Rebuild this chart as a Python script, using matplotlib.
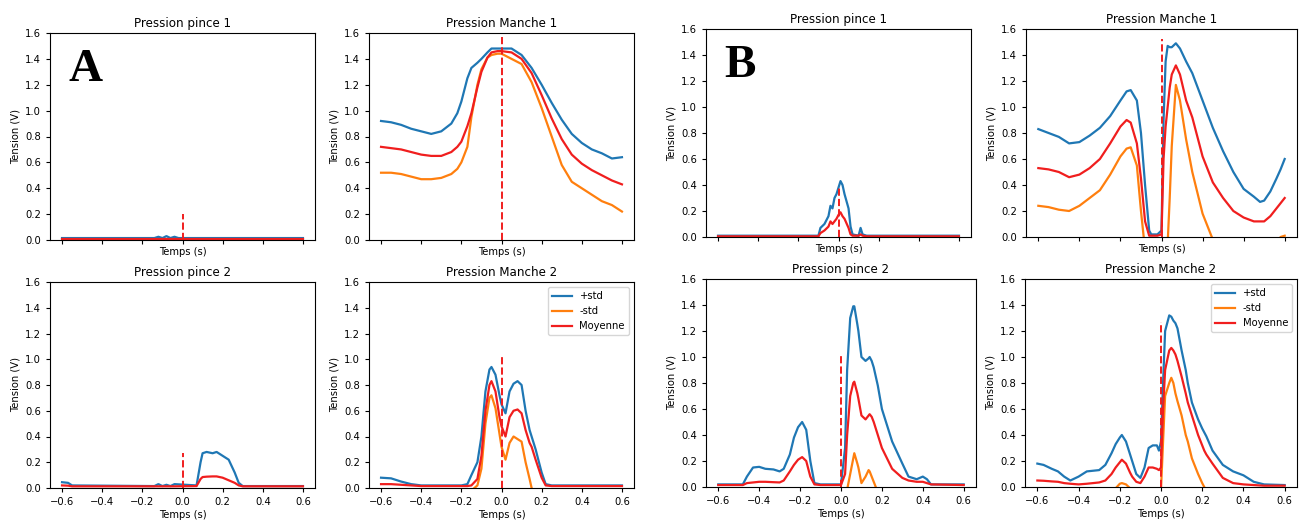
import numpy as np
import matplotlib.pyplot as plt

# ---- data ----
# A: Pression pince 1
a1_t = [-0.6, -0.14, -0.12, -0.1, -0.08, -0.06, -0.04, -0.02, 0.0, 0.6]
a1_plus = [0.015, 0.015, 0.025, 0.015, 0.03, 0.015, 0.025, 0.015, 0.015, 0.015]
a1_minus = [-0.02, -0.02, -0.02, -0.02, -0.02, -0.02, -0.02, -0.02, -0.02, -0.02]
a1_mean = [0.008, 0.008, 0.008, 0.008, 0.008, 0.008, 0.008, 0.008, 0.008, 0.008]
a1_vline = 0.2

# A: Pression Manche 1
a2_t = [-0.6, -0.55, -0.5, -0.45, -0.4, -0.35, -0.3, -0.25, -0.22, -0.2, -0.17, -0.15, -0.12,
        -0.1, -0.07, -0.05, -0.02, 0.0, 0.05, 0.1, 0.15, 0.2, 0.25, 0.3, 0.35, 0.4, 0.45,
        0.5, 0.55, 0.6]
a2_plus = [0.92, 0.91, 0.89, 0.86, 0.84, 0.82, 0.84, 0.90, 0.98, 1.07, 1.25, 1.33, 1.37,
           1.40, 1.45, 1.48, 1.48, 1.48, 1.48, 1.43, 1.33, 1.20, 1.06, 0.93, 0.82, 0.75, 0.70,
           0.67, 0.63, 0.64]
a2_minus = [0.52, 0.52, 0.51, 0.49, 0.47, 0.47, 0.48, 0.51, 0.55, 0.60, 0.72, 0.95, 1.20,
            1.32, 1.41, 1.43, 1.44, 1.44, 1.40, 1.36, 1.22, 1.02, 0.80, 0.58, 0.45, 0.40, 0.35,
            0.30, 0.27, 0.22]
a2_mean = [0.72, 0.71, 0.70, 0.68, 0.66, 0.65, 0.65, 0.68, 0.72, 0.76, 0.88, 0.98, 1.18,
           1.30, 1.41, 1.45, 1.46, 1.46, 1.45, 1.40, 1.29, 1.12, 0.94, 0.78, 0.66, 0.59, 0.54,
           0.50, 0.46, 0.43]
a2_vline = 1.6

# A: Pression pince 2
a3_t = [-0.6, -0.57, -0.55, -0.14, -0.12, -0.1, -0.08, -0.06, -0.04, 0.07, 0.09, 0.1, 0.12,
        0.15, 0.17, 0.2, 0.23, 0.26, 0.28, 0.3, 0.6]
a3_plus = [0.045, 0.04, 0.02, 0.015, 0.03, 0.015, 0.025, 0.015, 0.03, 0.02, 0.2, 0.27, 0.28,
           0.27, 0.28, 0.25, 0.22, 0.12, 0.04, 0.015, 0.015]
a3_minus = [-0.02, -0.02, -0.02, -0.02, -0.02, -0.02, -0.02, -0.02, -0.02, -0.02, -0.02, -0.02,
            -0.02, -0.02, -0.02, -0.02, -0.02, -0.02, -0.02, -0.02, -0.02]
a3_mean = [0.02, 0.018, 0.013, 0.013, 0.013, 0.013, 0.013, 0.013, 0.013, 0.015, 0.07, 0.085,
           0.088, 0.09, 0.09, 0.08, 0.06, 0.04, 0.02, 0.013, 0.013]
a3_vline = 0.27

# A: Pression Manche 2
a4_t = [-0.6, -0.55, -0.5, -0.45, -0.4, -0.2, -0.17, -0.15, -0.12, -0.1, -0.08, -0.06, -0.05,
        -0.03, -0.01, 0.0, 0.02, 0.04, 0.06, 0.08, 0.1, 0.12, 0.14, 0.15, 0.17, 0.2, 0.22,
        0.25, 0.6]
a4_plus = [0.08, 0.075, 0.05, 0.03, 0.02, 0.02, 0.03, 0.1, 0.2, 0.4, 0.75, 0.92, 0.94,
           0.88, 0.72, 0.65, 0.58, 0.75, 0.81, 0.83, 0.80, 0.60, 0.45, 0.40, 0.30, 0.12, 0.03,
           0.02, 0.02]
a4_minus = [-0.02, -0.02, -0.02, -0.02, -0.02, -0.02, -0.02, -0.02, 0.02, 0.15, 0.50, 0.70, 0.72,
            0.62, 0.42, 0.32, 0.22, 0.35, 0.40, 0.38, 0.36, 0.20, 0.07, 0.0, -0.05, -0.05, -0.05,
            -0.05, -0.05]
a4_mean = [0.03, 0.03, 0.025, 0.02, 0.015, 0.015, 0.015, 0.02, 0.07, 0.25, 0.60, 0.80, 0.83,
           0.75, 0.55, 0.48, 0.40, 0.55, 0.60, 0.61, 0.58, 0.45, 0.35, 0.32, 0.22, 0.08, 0.02,
           0.015, 0.015]
a4_vline = 1.03

# B: Pression pince 1
b1_t = [-0.6, -0.1, -0.09, -0.07, -0.05, -0.04, -0.03, -0.02, -0.01, 0.0, 0.01, 0.02, 0.03,
        0.05, 0.06, 0.07, 0.1, 0.11, 0.12, 0.14, 0.6]
b1_plus = [0.01, 0.01, 0.07, 0.10, 0.16, 0.24, 0.22, 0.30, 0.33, 0.38, 0.43, 0.40, 0.33,
           0.22, 0.08, 0.02, 0.01, 0.07, 0.02, 0.01, 0.01]
b1_minus = [-0.02, -0.02, -0.02, -0.02, -0.02, -0.02, -0.02, -0.02, -0.02, -0.02, -0.02, -0.02,
            -0.02, -0.02, -0.02, -0.02, -0.02, -0.02, -0.02, -0.02, -0.02]
b1_mean = [0.005, 0.005, 0.03, 0.05, 0.08, 0.12, 0.10, 0.12, 0.14, 0.17, 0.19, 0.16, 0.14,
           0.07, 0.02, 0.01, 0.01, 0.02, 0.01, 0.005, 0.005]
b1_vline = 0.38

# B: Pression Manche 1
b2_t = [-0.6, -0.55, -0.5, -0.45, -0.4, -0.35, -0.3, -0.25, -0.2, -0.17, -0.15, -0.12, -0.1,
        -0.08, -0.06, -0.05, -0.02, 0.0, 0.01, 0.02, 0.03, 0.04, 0.05, 0.07, 0.09, 0.12, 0.15,
        0.2, 0.25, 0.3, 0.35, 0.4, 0.45, 0.48, 0.5, 0.53, 0.56, 0.58, 0.6]
b2_plus = [0.83, 0.80, 0.77, 0.72, 0.73, 0.78, 0.84, 0.93, 1.05, 1.12, 1.13, 1.05, 0.80,
           0.40, 0.05, 0.02, 0.02, 0.05, 0.90, 1.35, 1.47, 1.46, 1.46, 1.49, 1.45, 1.35, 1.26,
           1.05, 0.84, 0.66, 0.50, 0.37, 0.31, 0.27, 0.28, 0.35, 0.45, 0.52, 0.60]
b2_minus = [0.24, 0.23, 0.21, 0.20, 0.24, 0.30, 0.36, 0.48, 0.62, 0.68, 0.69, 0.55, 0.20,
            -0.1, -0.1, -0.1, -0.1, -0.1, -0.1, -0.1, -0.05, 0.30, 0.70, 1.17, 1.05, 0.75, 0.50,
            0.18, -0.02, -0.1, -0.1, -0.1, -0.1, -0.1, -0.1, -0.1, -0.05, 0.0, 0.01]
b2_mean = [0.53, 0.52, 0.50, 0.46, 0.48, 0.53, 0.60, 0.72, 0.85, 0.90, 0.88, 0.72, 0.45,
           0.12, 0.01, 0.01, 0.01, 0.02, 0.60, 0.85, 1.00, 1.15, 1.25, 1.32, 1.25, 1.05, 0.92,
           0.62, 0.42, 0.30, 0.20, 0.15, 0.12, 0.12, 0.12, 0.16, 0.22, 0.26, 0.30]
b2_vline = 1.52

# B: Pression pince 2
b3_t = [-0.6, -0.48, -0.46, -0.43, -0.4, -0.37, -0.33, -0.3, -0.28, -0.25, -0.23, -0.21, -0.19,
        -0.17, -0.15, -0.13, -0.1, 0.0, 0.02, 0.03, 0.045, 0.06, 0.065, 0.08, 0.085, 0.1, 0.12,
        0.135, 0.14, 0.15, 0.16, 0.17, 0.18, 0.2, 0.25, 0.3, 0.33, 0.37, 0.4, 0.42, 0.44, 0.6]
b3_plus = [0.02, 0.02, 0.08, 0.15, 0.155, 0.14, 0.135, 0.12, 0.14, 0.25, 0.38, 0.46, 0.50,
           0.44, 0.20, 0.03, 0.02, 0.02, 0.30, 0.90, 1.30, 1.39, 1.39, 1.25, 1.20, 1.00, 0.97,
           0.99, 1.00, 0.97, 0.92, 0.85, 0.78, 0.60, 0.35, 0.18, 0.08, 0.06, 0.08, 0.06, 0.02, 0.02]
b3_minus = [-0.05, -0.05, -0.05, -0.05, -0.05, -0.05, -0.05, -0.05, -0.05, -0.05, -0.05, -0.05,
            -0.05, -0.05, -0.05, -0.05, -0.05, -0.05, -0.05, -0.02, 0.10, 0.22, 0.26, 0.18, 0.15,
            0.03, 0.08, 0.13, 0.12, 0.08, 0.04, 0.0, -0.05, -0.05, -0.05, -0.05, -0.05, -0.05,
            -0.05, -0.05, -0.05, -0.05]
b3_mean = [0.015, 0.015, 0.03, 0.035, 0.04, 0.04, 0.037, 0.035, 0.05, 0.12, 0.17, 0.21, 0.23,
           0.20, 0.08, 0.02, 0.015, 0.015, 0.10, 0.40, 0.70, 0.80, 0.81, 0.72, 0.68, 0.55, 0.52,
           0.55, 0.56, 0.54, 0.50, 0.45, 0.40, 0.30, 0.14, 0.07, 0.05, 0.04, 0.04, 0.03, 0.02, 0.015]
b3_vline = 1.02

# B: Pression Manche 2
b4_t = [-0.6, -0.57, -0.53, -0.5, -0.47, -0.44, -0.4, -0.36, -0.3, -0.27, -0.24, -0.22, -0.2,
        -0.19, -0.17, -0.15, -0.14, -0.12, -0.1, -0.08, -0.06, -0.04, -0.02, -0.01, 0.0, 0.01,
        0.02, 0.04, 0.05, 0.06, 0.07, 0.08, 0.1, 0.12, 0.13, 0.15, 0.18, 0.2, 0.21, 0.22, 0.25,
        0.3, 0.35, 0.4, 0.45, 0.5, 0.6]
b4_plus = [0.18, 0.17, 0.14, 0.12, 0.08, 0.05, 0.08, 0.12, 0.13, 0.17, 0.26, 0.33, 0.38,
           0.40, 0.35, 0.25, 0.20, 0.10, 0.07, 0.15, 0.30, 0.32, 0.32, 0.28, 0.35, 0.80,
           1.20, 1.32, 1.31, 1.28, 1.26, 1.22, 1.05, 0.90, 0.80, 0.65, 0.52, 0.45, 0.42, 0.39, 0.28,
           0.17, 0.12, 0.09, 0.04, 0.02, 0.015]
b4_minus = [-0.05, -0.05, -0.05, -0.05, -0.05, -0.05, -0.05, -0.05, -0.05, -0.05, -0.05, -0.01,
            0.025, 0.03, 0.02, -0.01, -0.05, -0.05, -0.05, -0.05, -0.05, -0.05, -0.05, -0.05,
            -0.02, 0.35, 0.70, 0.80, 0.84, 0.80, 0.72, 0.66, 0.55, 0.40, 0.35, 0.22, 0.10, 0.03,
            0.0, -0.05, -0.05, -0.05, -0.05, -0.05, -0.05, -0.05, -0.05]
b4_mean = [0.05, 0.048, 0.043, 0.04, 0.03, 0.025, 0.02, 0.025, 0.035, 0.05, 0.10, 0.15, 0.19,
           0.21, 0.18, 0.11, 0.08, 0.04, 0.03, 0.08, 0.15, 0.15, 0.14, 0.13, 0.15, 0.60,
           0.90, 1.05, 1.07, 1.05, 1.02, 0.97, 0.85, 0.72, 0.65, 0.55, 0.40, 0.32, 0.28, 0.25, 0.18,
           0.07, 0.03, 0.02, 0.015, 0.01, 0.01]
b4_vline = 1.27

titles = ['Pression pince 1', 'Pression Manche 1', 'Pression pince 2', 'Pression Manche 2']
panel_letters = ['A', 'B']

W, H = 1304, 524
fig = plt.figure(figsize=(W / 100, H / 100), dpi=100)


def px_axes(x0, y0, x1, y1):
    # pixel box (top-left origin) -> figure fraction
    return fig.add_axes([x0 / W, 1 - y1 / H, (x1 - x0) / W, (y1 - y0) / H])


boxes = [
    [(50, 33, 315, 240), (369, 33, 634, 240), (50, 282, 315, 488), (369, 282, 634, 488)],
    [(706, 29, 971, 237), (1026, 29, 1297, 237), (706, 279, 976, 487), (1025, 279, 1297, 487)],
]
data = [
    [(a1_t, a1_plus, a1_minus, a1_mean, a1_vline),
     (a2_t, a2_plus, a2_minus, a2_mean, a2_vline),
     (a3_t, a3_plus, a3_minus, a3_mean, a3_vline),
     (a4_t, a4_plus, a4_minus, a4_mean, a4_vline)],
    [(b1_t, b1_plus, b1_minus, b1_mean, b1_vline),
     (b2_t, b2_plus, b2_minus, b2_mean, b2_vline),
     (b3_t, b3_plus, b3_minus, b3_mean, b3_vline),
     (b4_t, b4_plus, b4_minus, b4_mean, b4_vline)],
]

for g in range(2):
    for k in range(4):
        ax = px_axes(*boxes[g][k])
        t, up, lo, mean, vh = data[g][k]
        ax.plot(t, up, color='#1f77b4', lw=1.6, label='+std')
        ax.plot(t, lo, color='#ff7f0e', lw=1.6, label='-std')
        ax.plot(t, mean, color='#f01e1e', lw=1.6, label='Moyenne')
        ax.vlines(0, 0, vh, colors='#f01e1e', linestyles='--', lw=1.4)
        ax.set_xlim(-0.66, 0.66)
        ax.set_ylim(0, 1.6)
        ax.set_xticks(np.arange(-0.6, 0.61, 0.2))
        ax.set_yticks(np.arange(0, 1.61, 0.2))
        ax.tick_params(labelsize=7.2, length=3)
        if k < 2:
            ax.tick_params(labelbottom=False)
        else:
            ax.set_xticklabels(['\u22120.6', '\u22120.4', '\u22120.2', '0.0', '0.2', '0.4', '0.6'])
        ax.set_xlabel('Temps (s)', fontsize=7.2, labelpad=2)
        ax.set_ylabel('Tension (V)', fontsize=7.2, labelpad=3)
        ax.set_title(titles[k], fontsize=8.6, pad=4)
        if k == 3:
            ax.legend(loc='upper right', fontsize=7.2)
        if k == 0:
            ax.text(0.07, 0.77, panel_letters[g], transform=ax.transAxes,
                    fontsize=34, fontweight='bold', family='Liberation Serif')

fig.savefig('out.png', dpi=100)
